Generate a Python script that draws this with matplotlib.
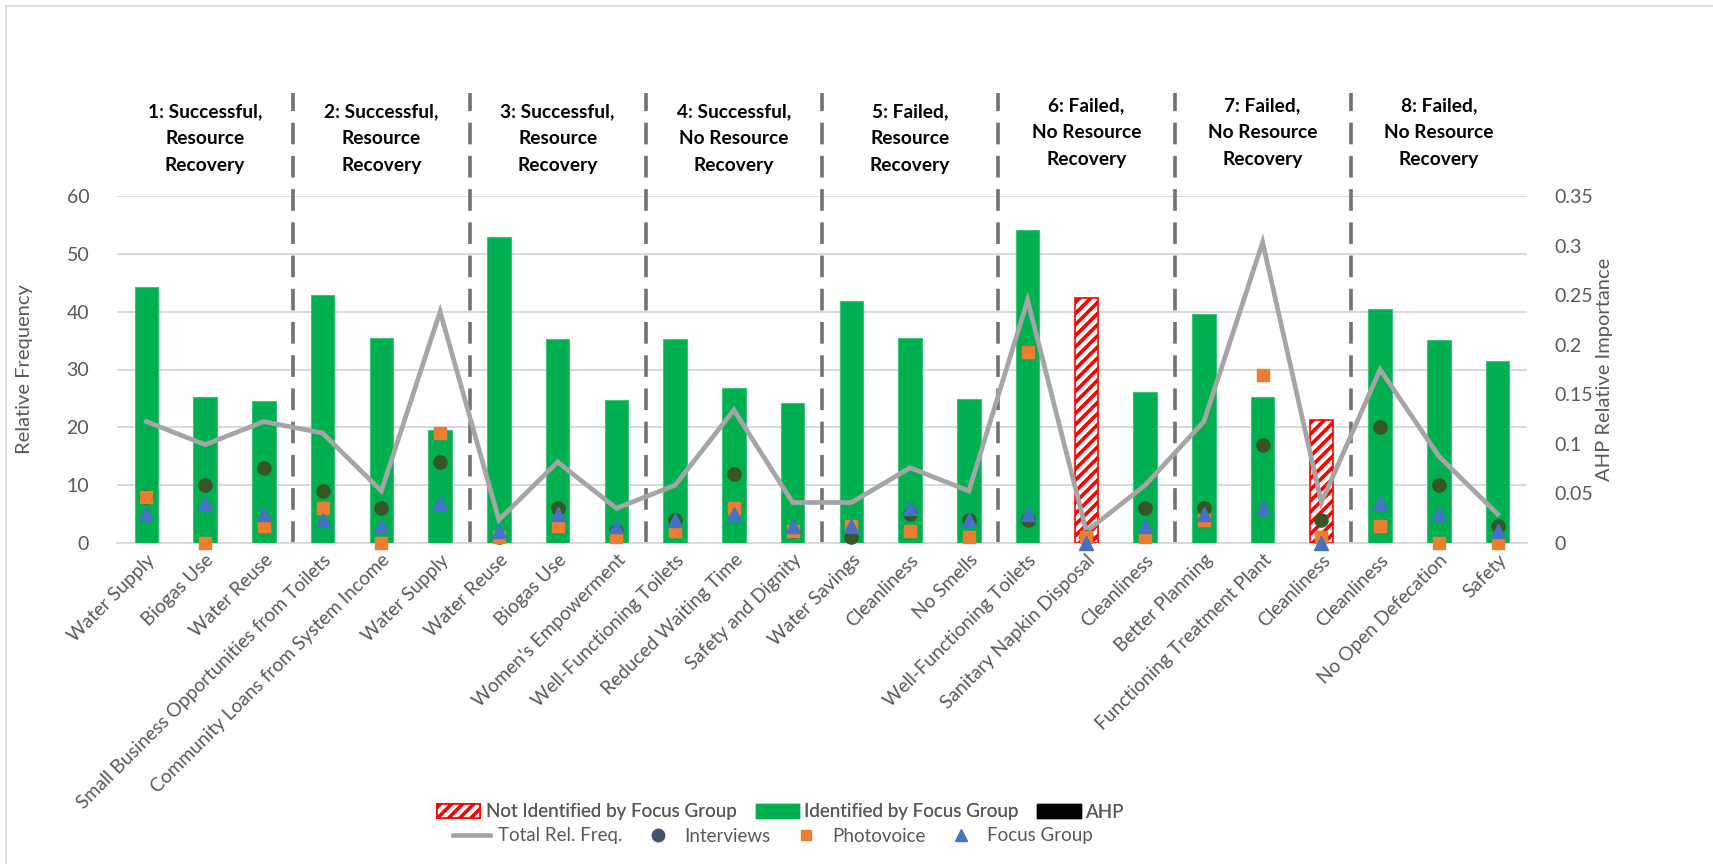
import matplotlib
matplotlib.use("Agg")
import matplotlib.pyplot as plt
from matplotlib.patches import Patch, Rectangle
from matplotlib.lines import Line2D
import matplotlib.transforms as mtransforms
import numpy as np

plt.rcParams['font.family'] = ['Lato', 'DejaVu Sans']
plt.rcParams['hatch.linewidth'] = 2.6

categories = [
    "Water Supply", "Biogas Use", "Water Reuse",
    "Small Business Opportunities from Toilets", "Community Loans from System Income", "Water Supply",
    "Water Reuse", "Biogas Use", "Women's Empowerment",
    "Well-Functioning Toilets", "Reduced Waiting Time", "Safety and Dignity",
    "Water Savings", "Cleanliness", "No Smells",
    "Well-Functioning Toilets", "Sanitary Napkin Disposal", "Cleanliness",
    "Better Planning", "Functioning Treatment Plant", "Cleanliness",
    "Cleanliness", "No Open Defecation", "Safety",
]
group_titles = [
    "1: Successful,\nResource\nRecovery",
    "2: Successful,\nResource\nRecovery",
    "3: Successful,\nResource\nRecovery",
    "4: Successful,\nNo Resource\nRecovery",
    "5: Failed,\nResource\nRecovery",
    "6: Failed,\nNo Resource\nRecovery",
    "7: Failed,\nNo Resource\nRecovery",
    "8: Failed,\nNo Resource\nRecovery",
]
# AHP relative importance of each criterion (right axis)
ahp = [0.258, 0.147, 0.143, 0.250, 0.207, 0.114, 0.309, 0.206, 0.144,
       0.206, 0.156, 0.141, 0.244, 0.207, 0.145, 0.316, 0.247, 0.152,
       0.231, 0.147, 0.124, 0.236, 0.205, 0.184]
# criterion identified by the focus group (False -> hatched bar)
identified = [True] * 24
identified[16] = False
identified[20] = False
# relative frequencies (left axis)
total_freq = [21, 17, 21, 19, 9, 40, 4, 14, 6, 10, 23, 7,
              7, 13, 9, 42, 2, 10, 21, 52, 7, 30, 15, 5]
interviews = [8, 10, 13, 9, 6, 14, 1, 6, 2, 4, 12, 2,
              1, 5, 4, 4, 1, 6, 6, 17, 4, 20, 10, 3]
photovoice = [8, 0, 3, 6, 0, 19, 1, 3, 1, 2, 6, 2,
              3, 2, 1, 33, 1, 1, 4, 29, 1, 3, 0, 0]
focus_group = [5, 7, 5, 4, 3, 7, 2, 5, 3, 4, 5, 3,
               3, 6, 4, 5, 0, 3, 5, 6, 0, 7, 5, 2]

W, H = 1713, 864
fig = plt.figure(figsize=(W / 100, H / 100), dpi=100)
ax = fig.add_axes([117 / W, 1 - 543 / H, (1527 - 117) / W, (543 - 196) / H])
ax2 = ax.twinx()
# overlay axis on the frequency scale so the line and markers sit above the bars
ax3 = ax.twinx()
ax3.set_zorder(ax2.get_zorder() + 1)
ax3.patch.set_visible(False)

x = np.arange(len(categories))
green = "#00B050"
grey_line = "#A5A5A5"

# Bars on the AHP axis
for i in x:
    if identified[i]:
        ax2.bar(i, ahp[i], width=0.40, color=green, edgecolor="#3CC47A",
                linewidth=0.8, zorder=2)
    else:
        ax2.bar(i, ahp[i], width=0.40, facecolor="white", edgecolor="#FF0000",
                hatch="///", linewidth=1.2, zorder=2)

ax2.set_ylim(0, 0.35)
ax2.set_yticks(np.arange(0, 0.351, 0.05))
ax2.set_yticklabels(["0", "0.05", "0.1", "0.15", "0.2", "0.25", "0.3", "0.35"])
ax2.yaxis.tick_right()
ax2.yaxis.set_label_position("right")

ax3.set_ylim(0, 60)
ax3.set_yticks([])
for s in ax3.spines.values():
    s.set_visible(False)
ax3.plot(x, total_freq, color=grey_line, linewidth=3.4, zorder=3,
         solid_joinstyle="miter", clip_on=False)
ax3.plot(x, interviews, "o", color="#375623", markersize=9.5, linestyle="none",
         zorder=4, clip_on=False)
ax3.plot(x, photovoice, "s", color="#ED7D31", markersize=8.3, linestyle="none",
         zorder=5, clip_on=False)
ax3.plot(x, focus_group, "^", color="#4472C4", markersize=9.5, linestyle="none",
         zorder=6, clip_on=False)

ax.set_ylim(0, 60)
ax.set_yticks(np.arange(0, 61, 10))
ax.set_xlim(-0.5, len(categories) - 0.5)
ax.set_xticks(x)
ax.set_xticklabels(categories, rotation=45, ha="right", va="top",
                   rotation_mode="anchor", fontsize=13.8, color="#595959")
ax.tick_params(axis="x", length=0, pad=6)
ax.tick_params(axis="y", length=0, pad=20, labelsize=14, labelcolor="#595959")
ax2.tick_params(axis="y", length=0, pad=20, labelsize=14, labelcolor="#595959")
ax.yaxis.grid(True, color="#D9D9D9", linewidth=1.4)
ax.set_axisbelow(True)
for a in (ax, ax2):
    for s in a.spines.values():
        s.set_visible(False)
ax.spines["bottom"].set_visible(True)
ax.spines["bottom"].set_color("#D9D9D9")
ax.spines["bottom"].set_linewidth(1.4)

ax.set_ylabel("Relative Frequency", fontsize=14.5, color="#595959", labelpad=24)
ax2.set_ylabel("AHP Relative Importance", fontsize=14.5, color="#595959", labelpad=2)

# Dashed separators between case groups, reaching into the header area
trans = mtransforms.blended_transform_factory(ax.transData, ax.transAxes)
for b in np.arange(2.5, 23, 3):
    ax.add_line(Line2D([b, b], [0, (543 - 93) / (543 - 196)], transform=trans,
                       color="#767171", linewidth=2.6, linestyle=(0, (6, 3.2)),
                       clip_on=False, zorder=1))

# Group headers
for g, title in enumerate(group_titles):
    ytop = 106 if g >= 5 else 112
    for k, line in enumerate(title.split("\n")):
        ypix = ytop + k * 26.6
        ax.text(g * 3 + 1, 1 - (ypix - 196) / (543 - 196), line,
                transform=trans, ha="center", va="center", fontsize=13.8,
                fontweight="bold", color="black")

# Chart border
fig.add_artist(Rectangle((6 / W, -0.1), 1.2, 1 - 6 / H + 0.1, transform=fig.transFigure,
                         fill=False, edgecolor="#D9D9D9", linewidth=1.2))

# Legend, two rows
row1 = [
    Patch(facecolor="white", edgecolor="#FF0000", hatch="///", linewidth=1.2),
    Patch(facecolor=green, edgecolor=green),
    Patch(facecolor="black", edgecolor="black"),
]
row1_labels = ["Not Identified by Focus Group", "Identified by Focus Group", "AHP"]
row2 = [
    Line2D([], [], color=grey_line, linewidth=3.4),
    Line2D([], [], marker="o", color="#44546A", linestyle="none", markersize=9),
    Line2D([], [], marker="s", color="#ED7D31", linestyle="none", markersize=7.5),
    Line2D([], [], marker="^", color="#4472C4", linestyle="none", markersize=9),
]
row2_labels = ["Total Rel. Freq.", "Interviews", "Photovoice", "Focus Group"]
leg1 = fig.legend(row1, row1_labels, loc="center", bbox_to_anchor=(781 / W, 1 - 812 / H),
                  ncol=3, frameon=False, fontsize=13.5, handlelength=2.3,
                  handleheight=0.8, handletextpad=0.3, columnspacing=1.0,
                  labelcolor="#595959")
fig.legend(row2, row2_labels, loc="center", bbox_to_anchor=(773 / W, 1 - 836 / H),
           ncol=4, frameon=False, fontsize=13.5, handlelength=2.0,
           handletextpad=0.4, columnspacing=0.9, labelcolor="#595959")
fig.add_artist(leg1)

fig.savefig("out.png", dpi=100, facecolor="white")
